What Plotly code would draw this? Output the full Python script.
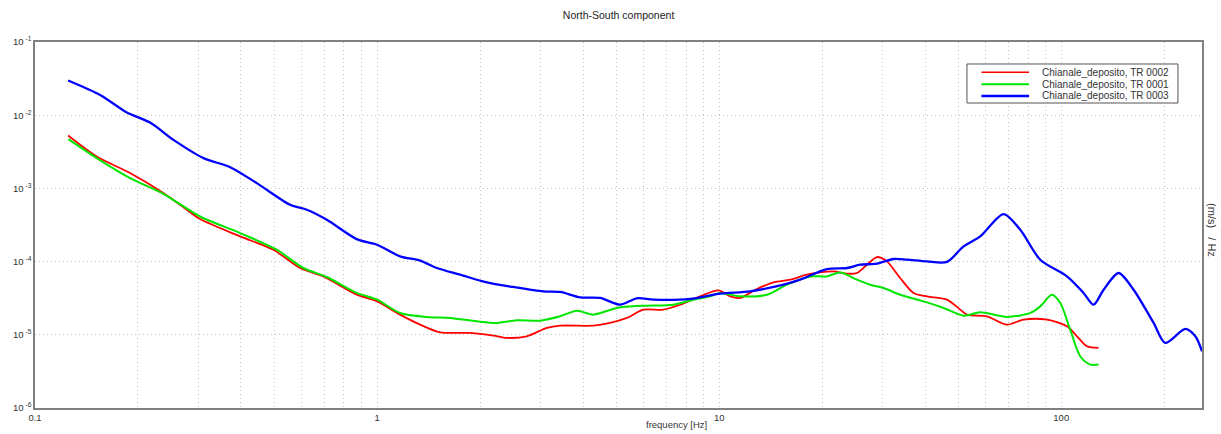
import plotly.graph_objects as go

# ---- data (frequency in Hz, amplitude in (m/s)/Hz) ----
freq_tr0003 = [0.125, 0.155, 0.185, 0.217, 0.254, 0.311, 0.372, 0.445, 0.557, 0.623,
               0.713, 0.872, 1.0, 1.167, 1.336, 1.495, 1.748, 2.093, 2.503, 3.064,
               3.428, 3.923, 4.487, 5.134, 5.745, 6.427, 8.228, 10.07, 12.32, 15.42,
               17.26, 20.64, 23.63, 25.84, 28.92, 32.33, 35.39, 40.49, 46.33, 51.80,
               57.97, 67.82, 75.89, 86.81, 103.9, 116.2, 124.3, 133.0, 147.1, 162.7,
               186.2, 201.4, 230.5, 246.6, 257.9]
amp_tr0003 = [2.98e-2, 1.89e-2, 1.10e-2, 7.93e-3, 4.60e-3, 2.59e-3, 1.95e-3, 1.18e-3, 5.97e-4, 5.11e-4,
              3.73e-4, 2.03e-4, 1.70e-4, 1.18e-4, 1.03e-4, 8.18e-5, 6.63e-5, 5.20e-5, 4.50e-5, 3.92e-5,
              3.85e-5, 3.25e-5, 3.19e-5, 2.58e-5, 3.15e-5, 3.02e-5, 3.09e-5, 3.65e-5, 3.92e-5, 4.84e-5,
              5.66e-5, 7.92e-5, 8.18e-5, 9.07e-5, 9.36e-5, 1.085e-4, 1.061e-4, 1.006e-4, 9.90e-5, 1.612e-4,
              2.207e-4, 4.46e-4, 2.72e-4, 1.061e-4, 6.28e-5, 3.73e-5, 2.58e-5, 4.13e-5, 6.99e-5, 4.13e-5,
              1.453e-5, 7.75e-6, 1.203e-5, 9.54e-6, 5.95e-6]

freq_tr0002 = [0.125, 0.1515, 0.1896, 0.2372, 0.2778, 0.3038, 0.3976, 0.4974, 0.5955, 0.6966,
               0.8723, 1.0, 1.167, 1.336, 1.528, 1.870, 2.188, 2.394, 2.740, 3.135,
               3.428, 4.290, 4.800, 5.372, 6.006, 6.873, 7.691, 8.798, 9.95, 10.77,
               11.52, 12.89, 14.41, 16.13, 18.05, 19.74, 21.59, 23.63, 25.27, 27.04,
               28.92, 30.93, 33.82, 36.99, 40.49, 46.33, 50.66, 53.0, 60.63, 69.38,
               77.61, 90.81, 103.9, 111.2, 118.9, 128.5]
amp_tr0002 = [5.27e-3, 2.72e-3, 1.62e-3, 8.63e-4, 5.11e-4, 3.81e-4, 2.21e-4, 1.453e-4, 8.18e-5, 6.28e-5,
              3.53e-5, 2.86e-5, 1.886e-5, 1.377e-5, 1.081e-5, 1.061e-5, 9.75e-6, 9.07e-6, 9.54e-6, 1.241e-5,
              1.334e-5, 1.334e-5, 1.453e-5, 1.699e-5, 2.207e-5, 2.207e-5, 2.58e-5, 3.35e-5, 4.04e-5, 3.35e-5,
              3.19e-5, 4.23e-5, 5.20e-5, 5.66e-5, 6.63e-5, 7.12e-5, 7.35e-5, 6.84e-5, 6.99e-5, 9.07e-5,
              1.155e-4, 1.006e-4, 5.97e-5, 3.73e-5, 3.35e-5, 3.02e-5, 2.207e-5, 1.886e-5, 1.788e-5, 1.377e-5,
              1.611e-5, 1.611e-5, 1.305e-5, 9.54e-6, 6.97e-6, 6.62e-6]

freq_tr0001 = [0.1252, 0.1515, 0.1896, 0.2372, 0.3038, 0.3976, 0.5088, 0.6088, 0.7127, 0.8723,
               1.0, 1.167, 1.397, 1.635, 1.956, 2.239, 2.562, 2.997, 3.428, 3.837,
               4.290, 5.022, 6.006, 7.351, 8.411, 9.413, 10.07, 11.52, 13.79, 15.77,
               18.45, 20.64, 22.59, 25.27, 27.64, 30.23, 33.82, 40.49, 45.28, 51.80,
               57.97, 69.38, 81.19, 86.81, 93.93, 99.34, 106.2, 113.6, 121.6, 128.5]
amp_tr0001 = [4.70e-3, 2.59e-3, 1.38e-3, 8.44e-4, 4.13e-4, 2.455e-4, 1.453e-4, 8.18e-5, 6.16e-5, 3.73e-5,
              3.02e-5, 1.989e-5, 1.754e-5, 1.699e-5, 1.528e-5, 1.453e-5, 1.576e-5, 1.561e-5, 1.788e-5, 2.138e-5,
              1.886e-5, 2.328e-5, 2.502e-5, 2.58e-5, 3.02e-5, 3.35e-5, 3.73e-5, 3.35e-5, 3.53e-5, 4.84e-5,
              6.28e-5, 6.28e-5, 7.12e-5, 5.66e-5, 4.84e-5, 4.36e-5, 3.53e-5, 2.775e-5, 2.328e-5, 1.827e-5,
              2.026e-5, 1.754e-5, 1.989e-5, 2.447e-5, 3.53e-5, 2.72e-5, 1.177e-5, 5.09e-6, 3.92e-6, 3.92e-6]

series_names = ["Chianale_deposito, TR 0002", "Chianale_deposito, TR 0001", "Chianale_deposito, TR 0003"]
series_colors = ["#ff0000", "#00e600", "#0000ff"]
series_widths = [1.8, 2.0, 2.3]

x_tick_vals = [0.1, 1, 10, 100]
x_tick_text = ["0.1", "1", "10", "100"]
x_minor_vals = [0.2, 0.3, 0.4, 0.5, 0.6, 0.7, 0.8, 0.9,
                2, 3, 4, 5, 6, 7, 8, 9,
                20, 30, 40, 50, 60, 70, 80, 90,
                200]
y_tick_vals = [1e-1, 1e-2, 1e-3, 1e-4, 1e-5, 1e-6]
y_tick_text = ["10<sup> -1</sup>", "10<sup> -2</sup>", "10<sup> -3</sup>",
               "10<sup> -4</sup>", "10<sup> -5</sup>", "10<sup> -6</sup>"]

FONT = "Arial, Liberation Sans, sans-serif"
GRID = "#c4c4c4"
DOT = "1px,3px"
TXT = "#333333"

fig = go.Figure()
for xs, ys, nm, col, w in zip([freq_tr0002, freq_tr0001, freq_tr0003],
                              [amp_tr0002, amp_tr0001, amp_tr0003],
                              series_names, series_colors, series_widths):
    fig.add_trace(go.Scatter(x=xs, y=ys, mode="lines", name=nm, showlegend=False,
                             line=dict(color=col, width=w, shape="spline", smoothing=0.8)))

fig.update_layout(
    width=1221, height=434,
    margin=dict(l=35, r=19, t=42, b=26, autoexpand=False),
    paper_bgcolor="white", plot_bgcolor="white",
    font=dict(family=FONT, size=9, color=TXT),
    title=dict(text="North-South component", x=0.5066, xanchor="center",
               y=0.965, yanchor="middle", automargin=False,
               font=dict(family=FONT, size=10.5, color="#222222")),
    showlegend=False,
)

fig.update_xaxes(
    type="log", range=[-1, 2.4114], automargin=False,
    tickmode="array", tickvals=x_tick_vals, ticktext=x_tick_text,
    ticks="", showgrid=True, gridcolor=GRID, griddash=DOT, gridwidth=1,
    minor=dict(tickmode="array", tickvals=x_minor_vals, showgrid=True,
               gridcolor=GRID, griddash=DOT, gridwidth=1, ticks=""),
    showline=True, linecolor="#808080", linewidth=1.5, mirror=True,
    zeroline=False, tickfont=dict(family=FONT, size=9.5, color=TXT),
)
fig.update_yaxes(
    type="log", range=[-6, -1], automargin=False,
    tickmode="array", tickvals=y_tick_vals, ticktext=y_tick_text,
    ticks="", showgrid=True, gridcolor=GRID, griddash=DOT, gridwidth=1,
    showline=True, linecolor="#808080", linewidth=1.5, mirror=True,
    zeroline=False, tickfont=dict(family=FONT, size=9.5, color=TXT),
)

# x-axis title (placed as in the reference, right of centre)
fig.add_annotation(text="frequency [Hz]", xref="paper", yref="paper", x=0.5493, y=-0.0464,
                   xanchor="center", yanchor="middle", showarrow=False,
                   font=dict(family=FONT, size=9.5, color=TXT))

# right-hand unit label
fig.add_annotation(text="(m/s)&nbsp;&nbsp;&nbsp;/ Hz", xref="paper", yref="paper", x=1.0085, y=0.4863,
                   xanchor="center", yanchor="middle", textangle=90, showarrow=False,
                   font=dict(family=FONT, size=11, color=TXT))

# compact legend box (paper coordinates of the plot area)
fig.add_shape(type="rect", xref="paper", yref="paper", x0=0.7986, x1=0.9794, y0=0.8333, y1=0.9399,
              line=dict(color="#555555", width=1), fillcolor="white", layer="above")
legend_rows_y = [0.9171, 0.8844, 0.8525]
for nm, col, w, ry in zip(series_names, series_colors, [1.5, 2.0, 2.6], legend_rows_y):
    fig.add_shape(type="line", xref="paper", yref="paper", x0=0.8110, x1=0.8518, y0=ry, y1=ry,
                  line=dict(color=col, width=w), layer="above")
    fig.add_annotation(text=nm, xref="paper", yref="paper", x=0.8612, y=ry,
                       xanchor="left", yanchor="middle", showarrow=False,
                       font=dict(family=FONT, size=10, color=TXT))

fig.write_html("out.html", config={"displayModeBar": False},
               post_script="document.body.style.margin='0px';")
